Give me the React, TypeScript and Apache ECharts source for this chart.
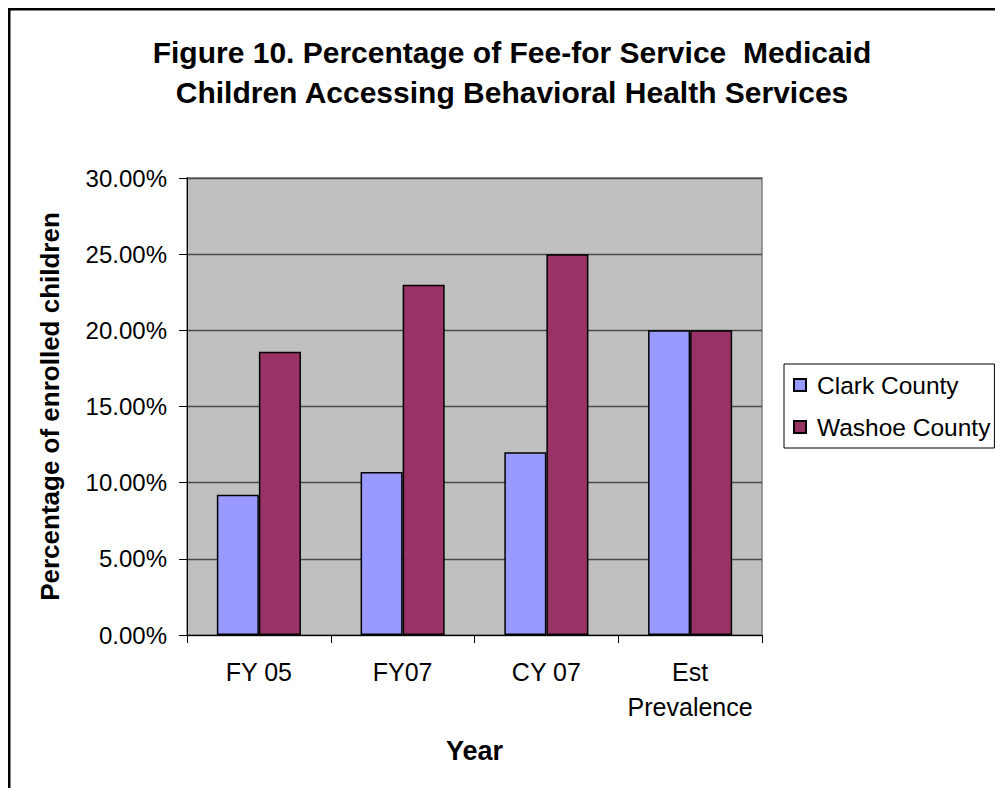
import React, { useEffect, useRef } from "react";
import * as echarts from "echarts";

const categories = ["FY 05", "FY07", "CY 07", "Est\nPrevalence"];
const clarkCounty = [0.092, 0.107, 0.12, 0.2];
const washoeCounty = [0.186, 0.23, 0.25, 0.2];
const seriesNames = ["Clark County", "Washoe County"];
const titleLines = [
  "Figure 10. Percentage of Fee-for Service  Medicaid",
  "Children Accessing Behavioral Health Services",
];
const yAxisTitle = "Percentage of enrolled children";
const xAxisTitle = "Year";

const FONT = "'Liberation Sans', Arial, sans-serif";

export default function App() {
  const ref = useRef<HTMLDivElement>(null);
  useEffect(() => {
    if (!ref.current) return;
    const chart = echarts.init(ref.current, undefined, { renderer: "svg" });
    chart.setOption({
      animation: false,
      backgroundColor: "#ffffff",
      textStyle: { fontFamily: FONT },
      graphic: [
        { type: "line", shape: { x1: 1, y1: 1, x2: 1, y2: 788 }, style: { stroke: "#000", lineWidth: 3 } },
        { type: "line", shape: { x1: 0, y1: 1, x2: 995, y2: 1 }, style: { stroke: "#000", lineWidth: 3 } },
        {
          type: "text",
          x: 504,
          y: 24,
          style: {
            text: titleLines.join("\n"),
            font: `bold 30px ${FONT}`,
            fill: "#000",
            align: "center",
            verticalAlign: "top",
            lineHeight: 40,
          },
        },
      ],
      legend: {
        orient: "vertical",
        left: 776,
        top: 356,
        padding: [8, 4, 8, 9],
        itemGap: 16,
        itemWidth: 12,
        itemHeight: 12,
        icon: "rect",
        borderColor: "#000",
        borderWidth: 1,
        backgroundColor: "#fff",
        textStyle: { fontSize: 24.5, color: "#000", fontFamily: FONT, lineHeight: 26, padding: [0, 0, 0, 6] },
        data: seriesNames,
      },
      grid: {
        left: 179,
        top: 170,
        width: 575,
        height: 457,
        show: true,
        backgroundColor: "#C0C0C0",
        borderColor: "#808080",
        borderWidth: 1.5,
      },
      xAxis: {
        type: "category",
        data: categories,
        name: xAxisTitle,
        nameLocation: "middle",
        nameGap: 102,
        nameTextStyle: { fontSize: 27, fontWeight: "bold", color: "#000", fontFamily: FONT },
        axisLine: { lineStyle: { color: "#000", width: 1 } },
        axisTick: { show: true, length: 8, lineStyle: { color: "#000" } },
        axisLabel: { fontSize: 25, color: "#000", margin: 19, lineHeight: 35, fontFamily: FONT, interval: 0 },
      },
      yAxis: {
        type: "value",
        min: 0,
        max: 0.3,
        interval: 0.05,
        name: yAxisTitle,
        nameLocation: "middle",
        nameGap: 124,
        nameTextStyle: { fontSize: 26, fontWeight: "bold", color: "#000", fontFamily: FONT },
        axisLine: { show: true, lineStyle: { color: "#000", width: 1 } },
        axisTick: { show: true, length: 8, lineStyle: { color: "#000" } },
        axisLabel: {
          fontSize: 24,
          color: "#000",
          margin: 20,
          fontFamily: FONT,
          formatter: (v: number) => (v * 100).toFixed(2) + "%",
        },
        splitLine: { show: true, lineStyle: { color: "#4a4a4a", width: 1.3 } },
      },
      series: [
        {
          name: seriesNames[0],
          type: "bar",
          data: clarkCounty,
          barGap: "0%",
          barCategoryGap: "41.5%",
          itemStyle: { color: "#9999FF", borderColor: "#000", borderWidth: 1.5 },
        },
        {
          name: seriesNames[1],
          type: "bar",
          data: washoeCounty,
          barGap: "0%",
          barCategoryGap: "41.5%",
          itemStyle: { color: "#993366", borderColor: "#000", borderWidth: 1.5 },
        },
      ],
    });
    return () => chart.dispose();
  }, []);
  return <div ref={ref} style={{ width: 995, height: 788, marginBottom: -8 }} />;
}
